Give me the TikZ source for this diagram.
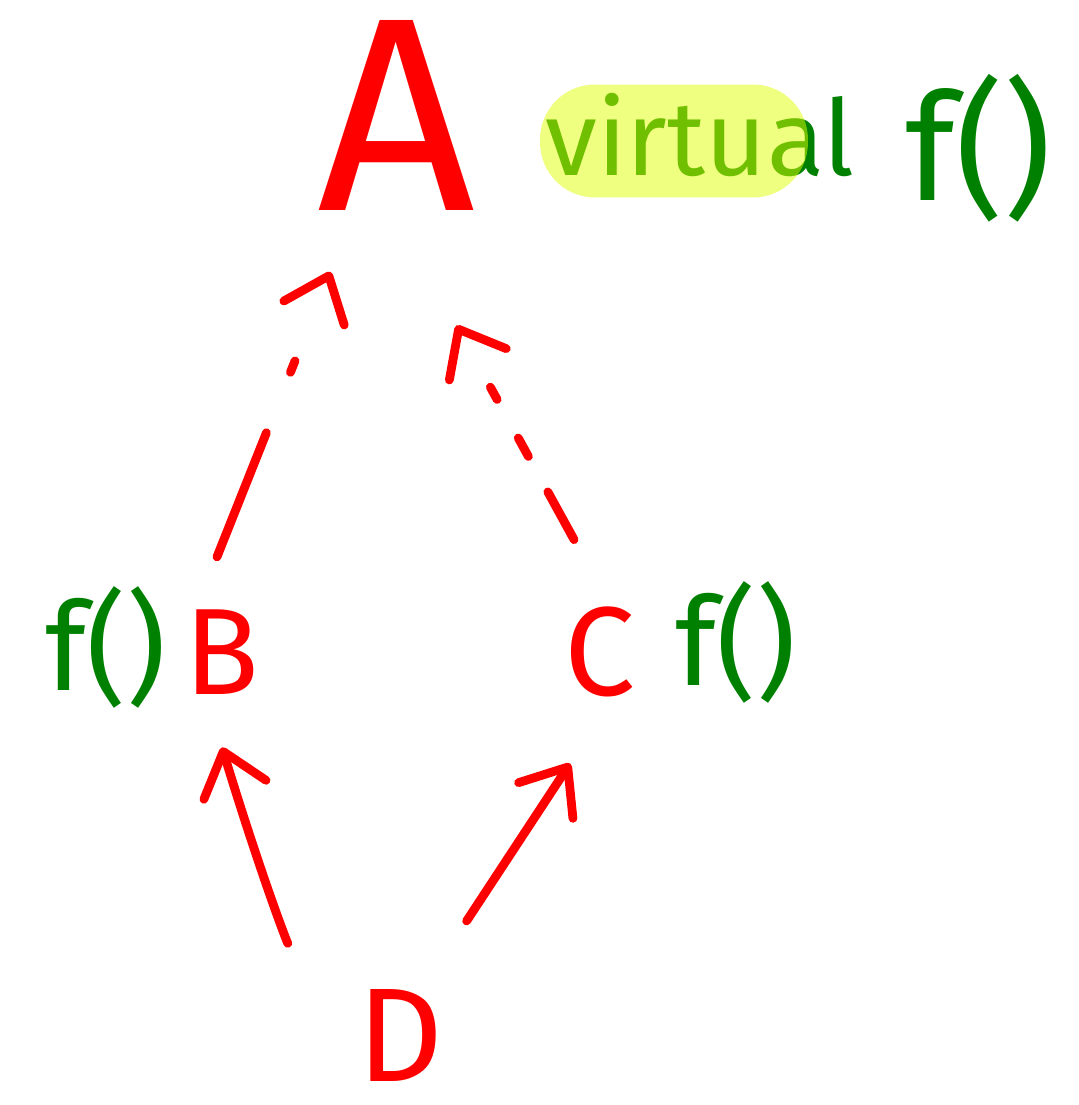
\documentclass[tikz,border=0pt]{standalone}
\usepackage{fontspec}
\setmainfont{Fira Sans}
\usetikzlibrary{arrows.meta}
\definecolor{Red}{HTML}{FF0000}
\definecolor{Green}{HTML}{008000}
\definecolor{Marker}{HTML}{E0FF00}

\tikzset{
  letter/.style={circle,inner sep=0pt,text=Red},
  func/.style={text=Green,inner sep=0pt,anchor=base west},
  link/.style={Red,line width=5pt,line cap=round,line join=round,
    -{Straight Barb[length=0.8cm,width=1.3cm,round]}},
}

\begin{document}
\begin{tikzpicture}[x=0.02cm,y=-0.02cm]
  \useasboundingbox (0,0) rectangle (1078,1105);
  % classes
  \node[letter,minimum size=6.8cm,font=\fontsize{157}{157}\selectfont] (A) at (397,115) {A};
  \node[letter,minimum size=3.8cm,font=\fontsize{70}{70}\selectfont] (B) at (222,652) {B};
  \node[letter,minimum size=4.6cm,font=\fontsize{72}{72}\selectfont] (C) at (600,652) {C};
  \node[letter,minimum size=2.2cm,font=\fontsize{76}{76}\selectfont] (D) at (400,1035) {D};
  % member functions
  \node[func,font=\fontsize{60}{60}\selectfont] (virt) at (545,175) {virtual};
  \node[func,font=\fontsize{85}{85}\selectfont] (fA) at (905,200) {f()};
  \node[func,font=\fontsize{70}{70}\selectfont] (fB) at (45,690) {f()};
  \node[func,font=\fontsize{70}{70}\selectfont] (fC) at (675,685) {f()};
  \node[fill=Marker,fill opacity=0.5,rounded corners=1.1cm,
    minimum width=5.36cm,minimum height=2.26cm] (mark) at (674,141) {};
  % inheritance
  \draw[link,shorten <=2.5cm] (D.200) to[bend left=4] (B.-90);
  \draw[link,shorten <=1.38cm] (D.63) -- (C.-105);
  \draw[link,dash pattern=on 76pt off 37pt on 7pt off 60pt] (B.93) -- (A.-113);
  \draw[link,dash pattern=on 31pt off 23pt on 12pt off 25pt on 8pt off 60pt,
    shorten >=1cm] (C.103) -- (A.-78);
\end{tikzpicture}
\end{document}
